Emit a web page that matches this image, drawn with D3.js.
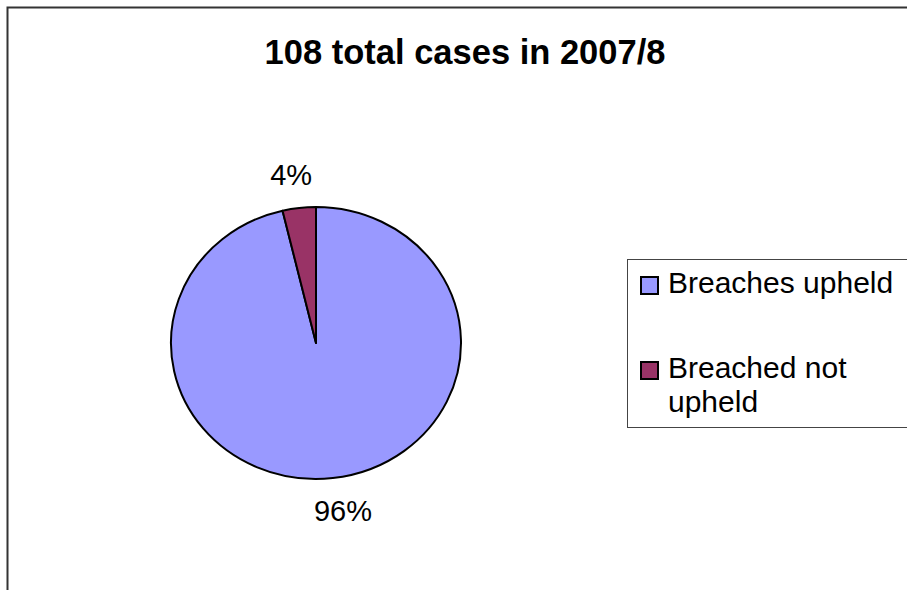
<!DOCTYPE html>
<html>
<head>
<meta charset="utf-8">
<script src="https://cdn.jsdelivr.net/npm/d3@7"></script>
<style>
  body { margin: 0; background: #fff; }
  text { font-family: "Liberation Sans", Arial, sans-serif; }
</style>
</head>
<body>
<div id="chart"></div>
<script>
// data
const categories = ["Breaches upheld", "Breached not upheld"];
const cases = [104, 4];
const colors = ["#9999FF", "#993366"];
const title = "108 total cases in 2007/8";

const width = 907, height = 590;

const svg = d3.select("#chart").append("svg")
    .attr("width", width)
    .attr("height", height);

// outer chart border (runs off the right and bottom)
svg.append("rect")
    .attr("x", 7.5).attr("y", 7.5)
    .attr("width", 1000).attr("height", 1000)
    .attr("fill", "#fff")
    .attr("stroke", "#333")
    .attr("stroke-width", 2);

// title
svg.append("text")
    .attr("x", 465).attr("y", 64)
    .attr("text-anchor", "middle")
    .style("font-size", "34.5px")
    .style("font-weight", "bold")
    .text(title);

// pie (slightly squashed vertically, like the original)
const cx = 316, cy = 343, rx = 145, ry = 136;
const total = d3.sum(cases);

const pie = d3.pie().sort(null).value(d => d);
const arcs = pie(cases);
const arc = d3.arc().innerRadius(0).outerRadius(rx);

const pieG = svg.append("g")
    .attr("transform", `translate(${cx},${cy}) scale(1,${ry / rx})`);

pieG.selectAll("path")
    .data(arcs)
    .enter().append("path")
    .attr("d", arc)
    .attr("fill", (d, i) => colors[i])
    .attr("stroke", "#000")
    .attr("stroke-width", 2)
    .attr("stroke-linejoin", "round")
    .attr("vector-effect", "non-scaling-stroke");

// percentage labels outside the slices
const labelArc = d3.arc().innerRadius(rx + 35).outerRadius(rx + 35);
svg.append("g")
    .attr("transform", `translate(${cx},${cy})`)
    .selectAll("text")
    .data(arcs)
    .enter().append("text")
    .attr("x", (d, i) => labelArc.centroid(d)[0] + (i === 0 ? 6 : -4))
    .attr("y", d => labelArc.centroid(d)[1] * (ry / rx) + 10)
    .attr("text-anchor", "middle")
    .style("font-size", "29px")
    .text(d => Math.round(d.data / total * 100) + "%");

// legend
const legend = svg.append("g");
legend.append("rect")
    .attr("x", 627.5).attr("y", 259.5)
    .attr("width", 400).attr("height", 168)
    .attr("fill", "#fff")
    .attr("stroke", "#444")
    .attr("stroke-width", 1);

const legendLines = [["Breaches upheld"], ["Breached not", "upheld"]];
const legendY = [293, 378];

legendLines.forEach((lines, i) => {
    legend.append("rect")
        .attr("x", 641).attr("y", legendY[i] - 16)
        .attr("width", 17).attr("height", 17)
        .attr("fill", colors[i])
        .attr("stroke", "#000")
        .attr("stroke-width", 2);
    const t = legend.append("text")
        .attr("x", 668).attr("y", legendY[i])
        .style("font-size", "30px");
    lines.forEach((line, j) => {
        t.append("tspan")
            .attr("x", 668)
            .attr("dy", j === 0 ? 0 : 34)
            .text(line);
    });
});
</script>
</body>
</html>
